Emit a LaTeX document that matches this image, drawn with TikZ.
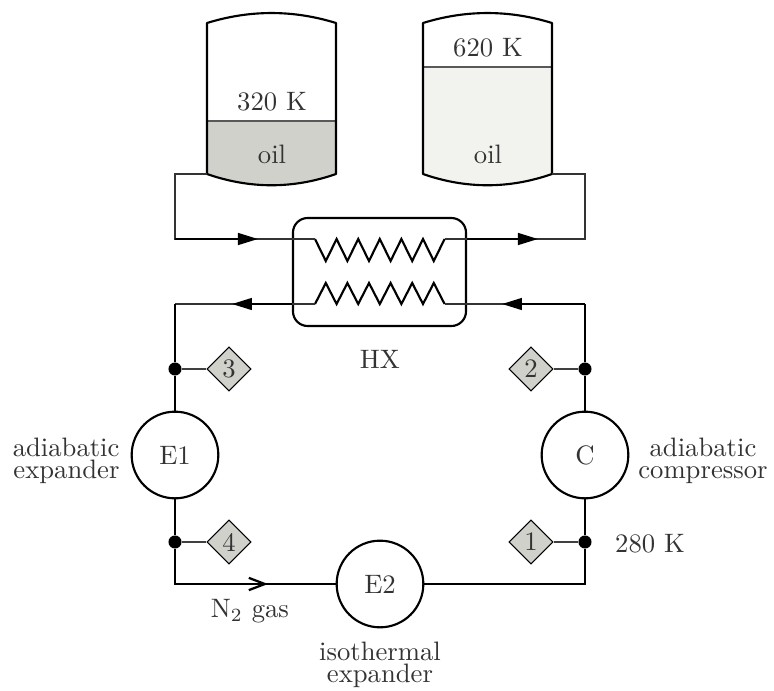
\documentclass[tikz,border=0pt]{standalone}
\usetikzlibrary{shapes.geometric,arrows.meta}
\definecolor{txt}{HTML}{333333}
\definecolor{cold}{HTML}{D0D1CB}
\definecolor{hot}{HTML}{F2F3EE}
\newcommand{\nudge}[2]{\raisebox{#1}{#2}}
\tikzset{
  x=0.375pt,y=-0.375pt,
  thinpipe/.style={line width=0.6pt,black!80,line join=miter},
  thickpipe/.style={line width=0.85pt,black,line join=miter},
  wall/.style={line width=0.8pt,black,line join=round},
  level/.style={line width=0.45pt,black!65},
  tip/.style={-{Triangle[length=7.5pt,width=4.4pt]}},
  machine/.style={circle,draw=black,line width=0.8pt,fill=white,minimum size=32.5pt,inner sep=0pt,text=txt},
  probe/.style={diamond,draw=black,line width=0.4pt,fill=cold,minimum width=16.5pt,minimum height=16.5pt,inner sep=0pt,text=txt},
  junction/.style={circle,fill=black,minimum size=4.9pt,inner sep=0pt},
  hxbox/.style={draw=black,line width=0.8pt,rounded corners=5.5pt,minimum width=64.9pt,minimum height=40.5pt,inner sep=0pt},
  lab/.style={anchor=base,text=txt,inner sep=0pt},
  twolab/.style={anchor=north,text=txt,inner sep=0pt,align=#1},
  stem/.style={line width=0.45pt,black!75},
}
\begin{document}
\begin{tikzpicture}
\useasboundingbox (0,0) rectangle (774,691);
% cold tank
\fill[cold] (207,121) -- (336,121) -- (336,174) .. controls (293,189) and (250,189) .. (207,174) -- cycle;
\draw[level] (207,121) -- (336,121);
\draw[wall] (207,174) -- (207,23) .. controls (250,9.7) and (293,9.7) .. (336,23) -- (336,174) .. controls (293,189) and (250,189) .. (207,174) -- cycle;
% hot tank
\fill[hot] (423,67) -- (552,67) -- (552,174) .. controls (509,189) and (466,189) .. (423,174) -- cycle;
\draw[level] (423,67) -- (552,67);
\draw[wall] (423,174) -- (423,23) .. controls (466,9.7) and (509,9.7) .. (552,23) -- (552,174) .. controls (509,189) and (466,189) .. (423,174) -- cycle;
\node[lab] (t320) at (272,110) {320 K};
\node[lab] (t620) at (488,56) {620 K};
\node[lab] (oilc) at (272,163) {oil};
\node[lab] (oilh) at (488,163) {oil};
% named points
\coordinate (coldout) at (207,174);
\coordinate (hotin) at (552,174);
\coordinate (ctl) at (175,174);
\coordinate (cbl) at (175,239);
\coordinate (ctr) at (585,174);
\coordinate (cbr) at (585,239);
\coordinate (tipa) at (258,239);
\coordinate (tipb) at (538,239);
\coordinate (ua) at (315,239);
\coordinate (ub) at (444.6,239);
\coordinate (la) at (315,304);
\coordinate (lb) at (444.6,304);
\coordinate (lr) at (585,304);
\coordinate (ll) at (175,304);
\coordinate (tipc) at (502,304);
\coordinate (tipd) at (232,304);
\coordinate (bl) at (175,584);
\coordinate (br) at (585,584);
\coordinate (tipe) at (268,584);
% heat exchanger
\node[hxbox] (hx) at (379.5,272) {};
\draw[line width=0.8pt,line join=miter] (ua) -- (325.8,261) -- (336.6,239) -- (347.4,261) -- (358.2,239) -- (369,261) -- (379.8,239) -- (390.6,261) -- (401.4,239) -- (412.2,261) -- (423,239) -- (433.8,261) -- (ub);
\draw[line width=0.8pt,line join=miter] (la) -- (325.8,283) -- (336.6,304) -- (347.4,283) -- (358.2,304) -- (369,283) -- (379.8,304) -- (390.6,283) -- (401.4,304) -- (412.2,283) -- (423,304) -- (433.8,283) -- (lb);
% upper pipes
\draw[thinpipe] (coldout) -- (ctl) -- (cbl) -- (ua);
\draw[thinpipe] (ub) -- (cbr) -- (ctr) -- (hotin);
\draw[thickpipe,tip] (cbl) -- (tipa);
\draw[thickpipe,tip] (hx.east |- ub) -- (tipb);
% lower pipes
\node[machine] (e1) at (175,455) {\nudge{-0.4pt}{E1}};
\node[machine] (c) at (585,455) {\nudge{-0.4pt}{C}};
\node[machine] (e2) at (380,584) {\nudge{-0.5pt}{E2}};
\node[junction] (d3) at (175,369) {};
\node[junction] (d2) at (585,369) {};
\node[junction] (d4) at (175,542) {};
\node[junction] (d1) at (585,542) {};
\node[probe] (p3) at (229,369) {\nudge{-1pt}{3}};
\node[probe] (p2) at (531,369) {\nudge{-1pt}{2}};
\node[probe] (p4) at (229,542) {\nudge{-1pt}{4}};
\node[probe] (p1) at (531,542) {\nudge{-1pt}{1}};
\draw[thinpipe] (ll) -- (la);
\draw[thinpipe] (lb) -- (lr);
\draw[thickpipe,tip] (lr) -- (tipc);
\draw[thickpipe,tip] (hx.west |- la) -- (tipd);
\draw[thickpipe] (ll) -- (d3) -- (e1);
\draw[thickpipe] (lr) -- (d2) -- (c);
\draw[thickpipe] (e1) -- (d4) -- (bl) -- (e2);
\draw[thickpipe,-{Straight Barb[length=6pt,width=4.6pt]}] (bl) -- (tipe);
\draw[thickpipe] (e2) -- (br) -- (d1) -- (c);
\draw[stem] (d3) -- (p3);
\draw[stem] (d2) -- (p2);
\draw[stem] (d4) -- (p4);
\draw[stem] (d1) -- (p1);
% labels
\node[lab] (hxl) at (380,368) {HX};
\node[lab] (gas) at (250,617) {N$_2$ gas};
\node[lab] (tk) at (650,552) {280 K};
\node[twolab=right,anchor=north east] (a1) at (120,437) {adiabatic\\[-3.65pt]expander};
\node[twolab=center] (a3) at (703,437) {adiabatic\\[-3.65pt]compressor};
\node[twolab=center] (a5) at (380,641.5) {isothermal\\[-3.9pt]expander};
\end{tikzpicture}
\end{document}
